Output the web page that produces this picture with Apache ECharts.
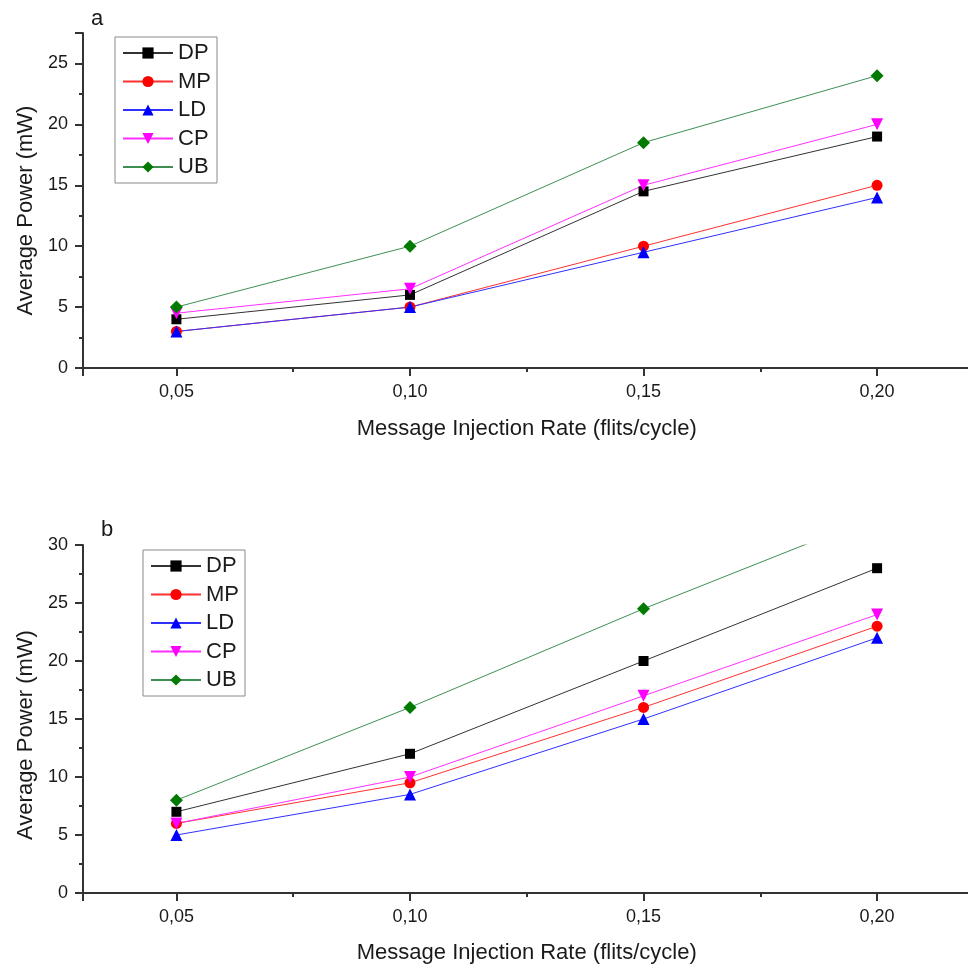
<!DOCTYPE html>
<html>
<head>
<meta charset="utf-8">
<script src="https://cdn.jsdelivr.net/npm/echarts@6/dist/echarts.min.js"></script>
<style>
html,body{margin:0;padding:0;background:#fff;}
#c{width:968px;height:966px;}
</style>
</head>
<body>
<div id="c"></div>
<script>
// ---- data ----
const rates = [0.05, 0.10, 0.15, 0.20];
const seriesNames = ['DP', 'MP', 'LD', 'CP', 'UB'];
// panel a
const aDP = [4, 6, 14.5, 19];
const aMP = [3, 5, 10, 15];
const aLD = [3, 5, 9.5, 14];
const aCP = [4.5, 6.5, 15, 20];
const aUB = [5, 10, 18.5, 24];
// panel b
const bDP = [7, 12, 20, 28];
const bMP = [6, 9.5, 16, 23];
const bLD = [5, 8.5, 15, 22];
const bCP = [6, 10, 17, 24];
const bUB = [8, 16, 24.5, 32.5];
const xTickLabels = ['0,05', '0,10', '0,15', '0,20'];
const panelLabels = ['a', 'b'];
const xTitle = 'Message Injection Rate (flits/cycle)';
const yTitle = 'Average Power (mW)';

// ---- styles ----
const FONT = '"Liberation Sans", Arial, sans-serif';
const TXT = '#1a1a1a';
const AX = '#333';
const styles = {
  DP: {symbol: 'rect', size: 10, rot: 0, mk: '#000000', ln: '#333333'},
  MP: {symbol: 'circle', size: 11, rot: 0, mk: '#ff0000', ln: '#ff3030'},
  LD: {symbol: 'triangle', size: 12, rot: 0, mk: '#0000ff', ln: '#3030ff'},
  CP: {symbol: 'triangle', size: 12, rot: 180, mk: '#ff00ff', ln: '#ff30ff'},
  UB: {symbol: 'diamond', size: 13, rot: 0, mk: '#007a00', ln: '#3f8f55'}
};

const chart = echarts.init(document.getElementById('c'), null, {renderer: 'canvas'});

function xLabelFmt(v) {
  const idx = rates.findIndex(r => Math.abs(r - v) < 1e-6);
  return idx >= 0 ? xTickLabels[idx] : '';
}
function yLabelFmt(v) {
  return Math.abs(v / 5 - Math.round(v / 5)) < 1e-6 ? String(Math.round(v)) : '';
}

function xAxis(gi, gap) {
  return {
    type: 'value', gridIndex: gi, min: 0.03, max: 0.22, splitNumber: 4,
    name: xTitle, nameLocation: 'middle', nameGap: gap,
    nameTextStyle: {fontFamily: FONT, fontSize: 22, color: TXT},
    axisLine: {show: true, onZero: false, lineStyle: {color: AX, width: 2}},
    axisTick: {show: true, inside: false, length: 8, lineStyle: {color: AX, width: 2}},
    minorTick: {show: true, splitNumber: 2, length: 4, lineStyle: {color: AX, width: 2}},
    axisLabel: {formatter: xLabelFmt, fontFamily: FONT, fontSize: 18, color: TXT, margin: 15},
    splitLine: {show: false}
  };
}
function yAxis(gi, max, pad) {
  return {
    type: 'value', gridIndex: gi, min: 0, max: max, interval: 5,
    name: yTitle, nameLocation: 'middle', nameGap: 38, nameRotate: 90,
    nameTextStyle: {fontFamily: FONT, fontSize: 22, color: TXT, padding: [0, pad, 0, 0]},
    axisLine: {show: true, onZero: false, lineStyle: {color: AX, width: 2}},
    axisTick: {show: true, inside: false, length: 8, lineStyle: {color: AX, width: 2}},
    minorTick: {show: true, splitNumber: 2, length: 4, lineStyle: {color: AX, width: 2}},
    axisLabel: {formatter: yLabelFmt, fontFamily: FONT, fontSize: 18, color: TXT, margin: 15,
      showMaxLabel: true},
    splitLine: {show: false}
  };
}

function mkSeries(name, values, gi) {
  const s = styles[name];
  return {
    name: name, type: 'line', xAxisIndex: gi, yAxisIndex: gi,
    data: rates.map((r, i) => [r, values[i]]),
    symbol: s.symbol, symbolSize: s.size, symbolRotate: s.rot,
    itemStyle: {color: s.mk, borderWidth: 0},
    lineStyle: {color: s.ln, width: 1},
    clip: true, animation: false, z: 2
  };
}

function legend(gi, left, top) {
  return {
    show: true, orient: 'vertical', left: left, top: top,
    data: seriesNames.map(n => ({name: n})),
    selectedMode: false,
    itemWidth: 50, itemHeight: 14, itemGap: 6.5,
    padding: [5, 6, 5, 7],
    borderColor: '#8a8a8a', borderWidth: 1, backgroundColor: '#fff',
    textStyle: {fontFamily: FONT, fontSize: 22, color: TXT, lineHeight: 22, padding: [0, 0, 0, 0]}
  };
}

const seriesA = [aDP, aMP, aLD, aCP, aUB];
const seriesB = [bDP, bMP, bLD, bCP, bUB];
const series = [];
seriesNames.forEach((n, i) => series.push(mkSeries(n, seriesA[i], 0)));
seriesNames.forEach((n, i) => series.push(mkSeries(n, seriesB[i], 1)));

chart.setOption({
  backgroundColor: '#ffffff',
  animation: false,
  title: [
    {text: panelLabels[0], left: 86, top: 3, textStyle: {fontFamily: FONT, fontSize: 22, fontWeight: 'normal', color: TXT}},
    {text: panelLabels[1], left: 96, top: 514, textStyle: {fontFamily: FONT, fontSize: 22, fontWeight: 'normal', color: TXT}}
  ],
  grid: [
    {left: 83, width: 887.5, top: 33, height: 335, outerBoundsMode: 'none', containLabel: false},
    {left: 83, width: 887.5, top: 545, height: 348, outerBoundsMode: 'none', containLabel: false}
  ],
  xAxis: [xAxis(0, 50), xAxis(1, 49)],
  yAxis: [yAxis(0, 27.5, 20), yAxis(1, 30, 32)],
  legend: [legend(0, 115, 37), legend(1, 143, 550)],
  series: series
});
</script>
</body>
</html>
